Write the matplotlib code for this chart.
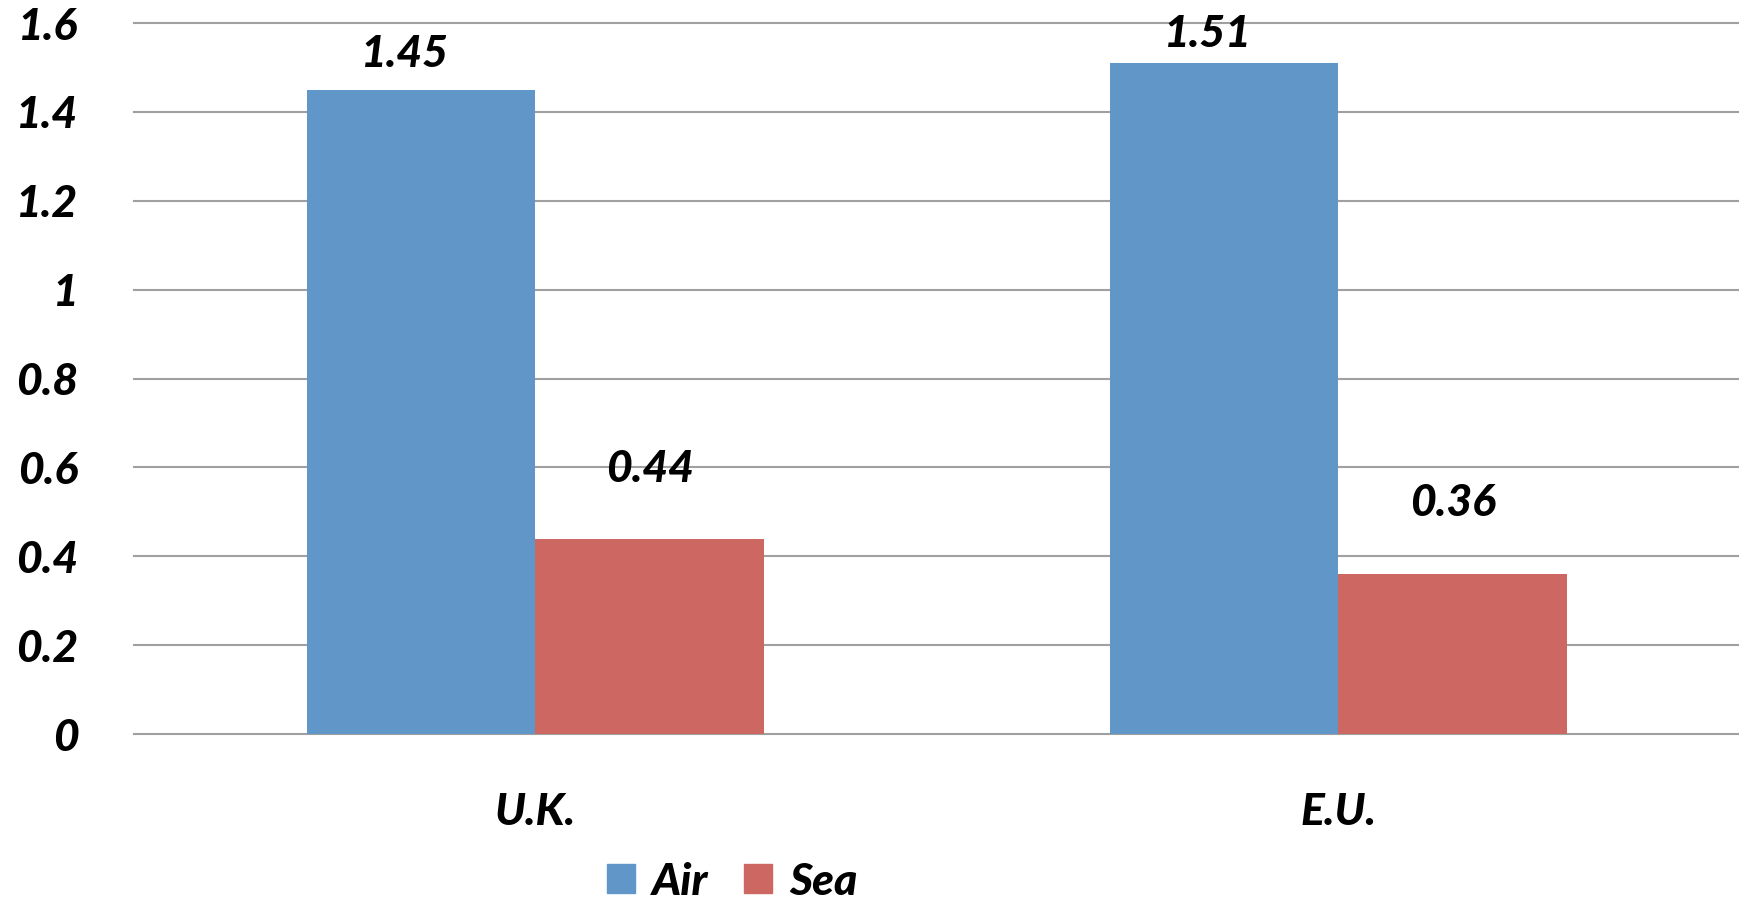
import numpy as np
import matplotlib.pyplot as plt
from matplotlib.patches import Patch

# values per region
regions = ['U.K.', 'E.U.']
air = [1.45, 1.51]
sea = [0.44, 0.36]
yticks = [0, 0.2, 0.4, 0.6, 0.8, 1, 1.2, 1.4, 1.6]

blue = '#6196c9'
red = '#cc6761'
grid_col = '#a0a0a0'

plt.rcParams['font.family'] = ['Lato', 'DejaVu Sans']
font = dict(fontsize=32, fontweight='black', fontstyle='italic', color='black')

fig = plt.figure(figsize=(17.4, 9.06), dpi=100)
ax = fig.add_axes([0.077, 0.1898, 0.923, 0.7848])

x = np.arange(len(regions))
w = 0.285
ax.bar(x - w / 2, air, w, color=blue, zorder=2)
ax.bar(x + w / 2, sea, w, color=red, zorder=2)

# value labels above the bars (extra lift in data units, baseline anchored)
lift_air = [0.05, 0.035]
lift_sea = [0.127, 0.13]
for i in range(len(regions)):
    ax.text(x[i] - w / 2 - 0.02, air[i] + lift_air[i], f'{air[i]:.2f}',
            ha='center', va='baseline', **font)
    ax.text(x[i] + w / 2, sea[i] + lift_sea[i], f'{sea[i]:.2f}',
            ha='center', va='baseline', **font)

ax.set_xlim(-0.5, 1.5)
ax.set_ylim(0, 1.6)
ax.set_yticks(yticks)
ax.set_yticklabels([f'{t:g}' for t in yticks], **font)
ax.set_xticks(x)
ax.set_xticklabels(regions, **font)
ax.tick_params(axis='y', length=0, pad=40)
ax.tick_params(axis='x', length=0, pad=42)

for s in ax.spines.values():
    s.set_visible(False)
ax.yaxis.grid(True, color=grid_col, linewidth=1.5)
for gl in ax.get_ygridlines():
    gl.set_clip_on(False)
ax.set_axisbelow(True)

handles = [Patch(color=blue, label='Air'), Patch(color=red, label='Sea')]
fig.legend(handles=handles, loc='center', bbox_to_anchor=(0.421, 0.027),
           ncol=2, frameon=False, prop=dict(family=['Lato', 'DejaVu Sans'], size=32,
                                            weight='black', style='italic'),
           handlelength=0.62, handleheight=0.62, handletextpad=0.4,
           columnspacing=0.8, borderpad=0)

fig.savefig('out.png', dpi=100)
